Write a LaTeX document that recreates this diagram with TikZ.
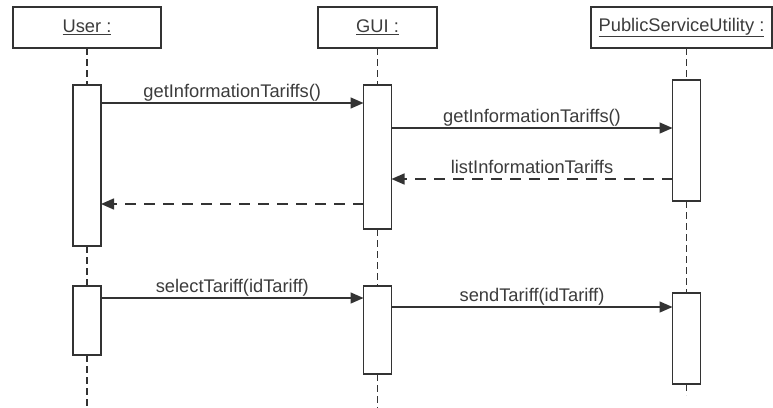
\documentclass[tikz,border=0pt]{standalone}
\usepackage{fontspec}
\setmainfont{Liberation Sans}
\usetikzlibrary{arrows.meta}
\definecolor{ink}{HTML}{333333}
\definecolor{txt}{HTML}{3C3C3C}
\begin{document}
\begin{tikzpicture}[x=1pt,y=-1pt,
  every node/.style={inner sep=0pt, outer sep=0pt},
  head/.style={draw=ink, line width=1.5pt, minimum height=41pt, font=\fontsize{18.3}{20}\selectfont, text=txt},
  act/.style={draw=ink, line width=1.5pt, fill=white, minimum width=28pt},
  life/.style={draw=ink, line width=1.6pt, dash pattern=on 7pt off 4pt},
  msg/.style={draw=ink, line width=1.5pt, -{Triangle[length=13pt,width=11pt]}},
  ret/.style={msg, dash pattern=on 11pt off 8pt},
  lbl/.style={font=\fontsize{18.3}{20}\selectfont, text=txt, anchor=base, yshift=6pt}]
\useasboundingbox[fill=white] (0,0) rectangle (773,407);

% headers
\node[head, minimum width=148pt] (user) at (87,27.5) {\underline{User :}};
\node[head, minimum width=119pt] (gui) at (377.5,27.5) {\underline{GUI :}};
\node[head, minimum width=181pt] (psu) at (681.5,27.5) {\underline{PublicServiceUtility :}};

% bottom ends of lifelines
\coordinate (uend) at (87,410);
\coordinate (gend) at (377.5,410);
\coordinate (pend) at (686.5,395);

% activations
\node[act, minimum height=161pt] (ua1) at (87,165.5) {};
\node[act, minimum height=144pt] (ga1) at (377.5,157) {};
\node[act, minimum height=121pt] (pa1) at (686.5,140.5) {};
\node[act, minimum height=69pt] (ua2) at (87,320.5) {};
\node[act, minimum height=88pt] (ga2) at (377.5,330) {};
\node[act, minimum height=91pt] (pa2) at (686.5,338.5) {};

% lifelines
\draw[life] (user.south) -- (ua1.north);
\draw[life] (ua1.south) -- (ua2.north);
\draw[life] (ua2.south) -- (uend);
\draw[life] (gui.south) -- (ga1.north);
\draw[life] (ga1.south) -- (ga2.north);
\draw[life] (ga2.south) -- (gend);
\draw[life] (pa1.north |- psu.south) -- (pa1.north);
\draw[life] (pa1.south) -- (pa2.north);
\draw[life] (pa2.south) -- (pend);

% message levels
\coordinate (y1) at (0,103);
\coordinate (y2) at (0,128);
\coordinate (y3) at (0,179);
\coordinate (y4) at (0,204);
\coordinate (y5) at (0,298);
\coordinate (y6) at (0,307);

% messages
\draw[msg] (ua1.east |- y1) -- node[lbl] {getInformationTariffs()} (ga1.west |- y1);
\draw[msg] (ga1.east |- y2) -- node[lbl] {getInformationTariffs()} (pa1.west |- y2);
\draw[ret] (pa1.west |- y3) -- node[lbl] {listInformationTariffs} (ga1.east |- y3);
\draw[ret] (ga1.west |- y4) -- (ua1.east |- y4);
\draw[msg] (ua2.east |- y5) -- node[lbl] {selectTariff(idTariff)} (ga2.west |- y5);
\draw[msg] (ga2.east |- y6) -- node[lbl] {sendTariff(idTariff)} (pa2.west |- y6);
\end{tikzpicture}
\end{document}
